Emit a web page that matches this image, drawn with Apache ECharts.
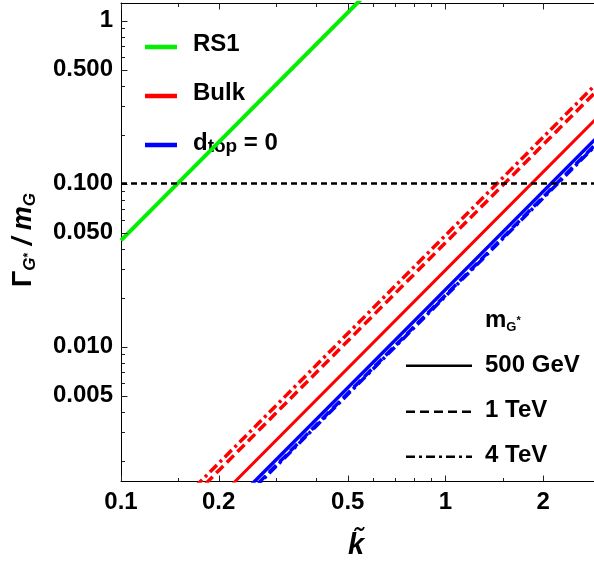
<!DOCTYPE html>
<html>
<head>
<meta charset="utf-8">
<script src="https://cdn.jsdelivr.net/npm/echarts@6/dist/echarts.min.js"></script>
<style>
  html, body { margin: 0; padding: 0; background: #fff; }
  #chart { width: 594px; height: 570px; }
</style>
</head>
<body>
<div id="chart"></div>
<script>
// Graviton width over mass, Γ/m, versus the coupling k̃ (log-log)
const kTilde = [0.1, 1, 3];

const rs1 = [0.0449, 4.49, 40.4];

const bulk500GeV = [0.000295, 0.0295, 0.266];
const bulk1TeV = [0.000434, 0.0434, 0.390];
const bulk4TeV = [0.000482, 0.0482, 0.434];

const dtop500GeV = [0.000224, 0.0224, 0.2016];
const dtop1TeV = [0.000207, 0.0207, 0.1863];
const dtop4TeV = [0.000204, 0.0204, 0.1836];

// Horizontal reference level
const widthLimit = 0.1;

// Axis ranges and ticks
const xRange = [0.1, 2.87];
const yRange = [0.0015, 1.285];
const xMajorTicks = [0.1, 0.2, 0.5, 1, 2];
const xMajorLabels = ['0.1', '0.2', '0.5', '1', '2'];
const xMinorTicks = [0.15, 0.3, 0.4, 0.6, 0.7, 0.8, 0.9, 1.5];
const yMajorTicks = [0.005, 0.01, 0.05, 0.1, 0.5, 1];
const yMajorLabels = ['0.005', '0.010', '0.050', '0.100', '0.500', '1'];
const yMinorTicks = [0.002, 0.003, 0.004, 0.006, 0.007, 0.008, 0.009,
                     0.02, 0.03, 0.04, 0.06, 0.07, 0.08, 0.09,
                     0.2, 0.3, 0.4, 0.6, 0.7, 0.8, 0.9];

const FONT = 'Liberation Sans';
const GREEN = '#00f000', RED = '#ff0000', BLUE = '#0000ff';
const DASHED = [10, 5];
const DOTDASH = [10, 4, 3, 4];

function pairs(xs, ys) { return xs.map((x, i) => [x, ys[i]]); }
function labelFor(ticks, labels) {
  return function (v) {
    let best = 0, d = Infinity;
    ticks.forEach((t, i) => {
      const e = Math.abs(Math.log(v / t));
      if (e < d) { d = e; best = i; }
    });
    return labels[best];
  };
}

const axisLine = { show: true, lineStyle: { color: '#000', width: 1 } };

const xAxes = [
  {
    type: 'log', logBase: 10, min: xRange[0], max: xRange[1], position: 'bottom',
    splitLine: { show: false }, axisTick: { show: false }, axisLine: axisLine,
    axisLabel: { show: true, customValues: xMajorTicks, margin: 9,
                 formatter: labelFor(xMajorTicks, xMajorLabels),
                 fontFamily: FONT, fontWeight: 'bold', fontSize: 24, color: '#000' }
  },
  {
    type: 'log', logBase: 10, min: xRange[0], max: xRange[1], position: 'top',
    splitLine: { show: false }, axisTick: { show: false }, axisLabel: { show: false },
    axisLine: axisLine
  }
];

const yAxes = [
  {
    type: 'log', logBase: 10, min: yRange[0], max: yRange[1], position: 'left',
    splitLine: { show: false }, axisTick: { show: false }, axisLine: axisLine,
    axisLabel: { show: true, customValues: yMajorTicks, margin: 8,
                 formatter: labelFor(yMajorTicks, yMajorLabels),
                 fontFamily: FONT, fontWeight: 'bold', fontSize: 24, color: '#000' }
  }
];

function curve(name, values, color, dash, width) {
  return {
    name: name, type: 'line', xAxisIndex: 0, yAxisIndex: 0,
    data: pairs(kTilde, values), showSymbol: false, symbol: 'none',
    clip: true, silent: true, animation: false,
    lineStyle: { color: color, width: width || 3.5, type: dash || 'solid', cap: 'butt' }
  };
}

const series = [
  curve('RS1', rs1, GREEN, 'solid', 4),
  curve('Bulk 4 TeV', bulk4TeV, RED, DOTDASH),
  curve('Bulk 1 TeV', bulk1TeV, RED, DASHED),
  curve('Bulk 500 GeV', bulk500GeV, RED, 'solid', 3),
  curve('dtop 500 GeV', dtop500GeV, BLUE, 'solid'),
  curve('dtop 1 TeV', dtop1TeV, BLUE, DASHED),
  curve('dtop 4 TeV', dtop4TeV, BLUE, DOTDASH)
];
series[0].markLine = {
  silent: true, symbol: ['none', 'none'], animation: false, z: 10,
  label: { show: false },
  lineStyle: { color: '#000', width: 2.5, type: [6, 4] },
  data: [{ yAxis: widthLimit }]
};

// Key and axis titles
const legendText = { fontFamily: FONT, fontWeight: 'bold', fontSize: 24, fill: '#000' };
function keyLine(x1, x2, y, color, width, dash) {
  return { type: 'line', silent: true,
           shape: { x1: x1, y1: y, x2: x2, y2: y },
           style: { stroke: color, lineWidth: width, lineDash: dash || null } };
}
function keyText(x, y, text, rich) {
  return { type: 'text', x: x, y: y, silent: true,
           style: Object.assign({ text: text, align: 'left', verticalAlign: 'middle', rich: rich }, legendText) };
}

const graphic = [
  keyLine(145, 177, 47, GREEN, 4.5),
  keyLine(145, 177, 96, RED, 4.5),
  keyLine(145, 177, 145, BLUE, 4.5),
  keyText(193, 44.7, 'RS1'),
  keyText(193, 93.4, 'Bulk'),
  keyText(193, 143.4, '{a|d}{b|top}{a| = 0}', {
    a: { fontFamily: FONT, fontWeight: 'bold', fontSize: 24, lineHeight: 28 },
    b: { fontFamily: FONT, fontWeight: 'bold', fontSize: 19, lineHeight: 19, padding: [6, 0, 0, 0] }
  }),
  keyText(485, 320, '{a|m}{b|G}{c|*}', {
    a: { fontFamily: FONT, fontWeight: 'bold', fontSize: 24, lineHeight: 28 },
    b: { fontFamily: FONT, fontWeight: 'bold', fontSize: 13, lineHeight: 13, padding: [14, 0, 0, 0] },
    c: { fontFamily: FONT, fontWeight: 'bold', fontSize: 11, lineHeight: 11, padding: [1, 0, 0, 0] }
  }),
  keyLine(406, 472, 365.7, '#000', 2.5),
  keyLine(406, 472, 411.7, '#000', 2.5, [9, 5]),
  keyLine(406, 472, 456.7, '#000', 2.5, [9, 4, 3, 4]),
  keyText(485, 365.7, '500 GeV'),
  keyText(485, 410.5, '1 TeV'),
  keyText(485, 455.3, '4 TeV'),
  // y-axis title
  { type: 'text', x: 24, y: 240, rotation: Math.PI / 2, silent: true,
    style: {
      text: '{g|Γ}{s|G}{st|*}{m| / m}{s|G}', align: 'center', verticalAlign: 'middle',
      fontFamily: FONT, fill: '#000',
      rich: {
        g: { fontFamily: FONT, fontWeight: 'bold', fontSize: 27, lineHeight: 30 },
        s: { fontFamily: FONT, fontWeight: 'bold', fontStyle: 'italic', fontSize: 17, lineHeight: 17, padding: [13, 0, 0, 0] },
        st: { fontFamily: FONT, fontWeight: 'bold', fontSize: 12, lineHeight: 12, padding: [9, 0, 0, 0] },
        m: { fontFamily: FONT, fontWeight: 'bold', fontStyle: 'italic', fontSize: 27, lineHeight: 30 }
      }
    } },
  // x-axis title
  { type: 'text', x: 356, y: 546, silent: true,
    style: { text: 'k\u0303', align: 'center', verticalAlign: 'middle',
             fontFamily: FONT, fontWeight: 'bold', fontStyle: 'italic', fontSize: 29, fill: '#000' } }
];

const chart = echarts.init(document.getElementById('chart'), null, { renderer: 'canvas' });
chart.setOption({
  animation: false,
  backgroundColor: '#fff',
  grid: { left: 121, right: 0, top: 3, bottom: 89, containLabel: false },
  xAxis: xAxes,
  yAxis: yAxes,
  series: series,
  graphic: graphic
});

// Frame ticks (inside), placed through the axes' own log scales
const xPix = v => chart.convertToPixel({ xAxisIndex: 0 }, v);
const yPix = v => chart.convertToPixel({ yAxisIndex: 0 }, v);
const frameLeft = Math.round(xPix(xRange[0])) + 0.5;
const frameBottom = Math.round(yPix(yRange[0])) + 0.5;
const frameTop = Math.round(yPix(yRange[1])) + 0.5;
const tickStyle = { stroke: '#222', lineWidth: 1 };
const ticks = [];
function tick(x1, y1, x2, y2) {
  ticks.push({ type: 'line', silent: true, z: 5, shape: { x1, y1, x2, y2 }, style: tickStyle });
}
xMajorTicks.forEach(v => {
  const x = Math.round(xPix(v)) + 0.5;
  tick(x, frameBottom, x, frameBottom - 6);
  tick(x, frameTop, x, frameTop + 6);
});
xMinorTicks.forEach(v => {
  const x = Math.round(xPix(v)) + 0.5;
  tick(x, frameBottom, x, frameBottom - 3.5);
  tick(x, frameTop, x, frameTop + 3.5);
});
yMajorTicks.forEach(v => {
  const y = Math.round(yPix(v)) + 0.5;
  tick(frameLeft, y, frameLeft + 6, y);
});
yMinorTicks.forEach(v => {
  const y = Math.round(yPix(v)) + 0.5;
  tick(frameLeft, y, frameLeft + 3.5, y);
});
chart.setOption({ graphic: graphic.concat(ticks) });
</script>
</body>
</html>
